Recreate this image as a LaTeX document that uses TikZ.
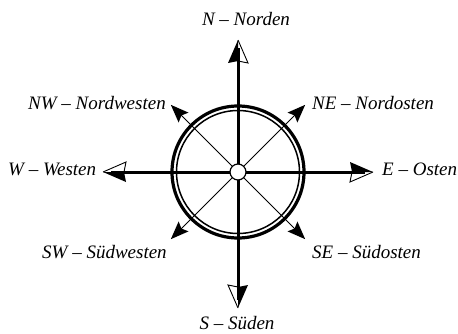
\documentclass[tikz,border=0pt]{standalone}
\usepackage{fontspec}
\setmainfont{Liberation Serif}
\usetikzlibrary{calc}
\tikzset{
  axisline/.style={line width=3pt},
  diagline/.style={line width=0.9pt},
  lbl/.style={inner sep=0pt, font=\fontsize{19}{22}\selectfont\itshape},
  halfhead/.pic={
    \fill (0,0) -- (-23,10) -- (-21,0) -- cycle;
    \draw[line width=0.9pt, line join=miter] (0,0) -- (-23,-10) -- (-21,0);
  },
  fullhead/.pic={
    \fill (0,0) -- (-18,7) -- (-15,0) -- (-18,-7) -- cycle;
  }
}
\begin{document}
\begin{tikzpicture}[x=1pt,y=1pt]
\useasboundingbox (0,0) rectangle (458,333);
\coordinate (C) at (238,161);
\coordinate (Ntip) at ($(C)+(0,132)$);
\coordinate (Stip) at ($(C)+(0,-136)$);
\coordinate (Etip) at ($(C)+(135,0)$);
\coordinate (Wtip) at ($(C)+(-135,0)$);
\coordinate (NEtip) at ($(C)+(45:95)$);
\coordinate (NWtip) at ($(C)+(135:95)$);
\coordinate (SWtip) at ($(C)+(225:95)$);
\coordinate (SEtip) at ($(C)+(315:95)$);
% rings
\draw[line width=3.2pt] (C) circle[radius=66];
\draw[line width=1.5pt] (C) circle[radius=61.5];
% diagonals
\foreach \t in {NE,NW,SW,SE}{
  \draw[diagline] (C) -- ($(\t tip)!10pt!(C)$);
}
\pic[rotate=45] at (NEtip) {fullhead};
\pic[rotate=135] at (NWtip) {fullhead};
\pic[rotate=225] at (SWtip) {fullhead};
\pic[rotate=315] at (SEtip) {fullhead};
% axes
\foreach \t in {N,S,E,W}{
  \draw[axisline] (C) -- ($(\t tip)!8pt!(C)$);
}
\pic[rotate=90] at (Ntip) {halfhead};
\pic[rotate=270] at (Stip) {halfhead};
\pic[rotate=0] at (Etip) {halfhead};
\pic[rotate=180] at (Wtip) {halfhead};
% hub
\draw[line width=1.2pt, fill=white] (C) circle[radius=8];
% labels
\node[lbl, anchor=base] (lN) at (246,308) {N – Norden};
\node[lbl, anchor=base] (lS) at (237,4) {S – Süden};
\node[lbl, anchor=base west] (lNW) at (28,224) {NW – Nordwesten};
\node[lbl, anchor=base west] (lNE) at (312,224) {NE – Nordosten};
\node[lbl, anchor=base west] (lW) at (8,158) {W – Westen};
\node[lbl, anchor=base west] (lE) at (382,158) {E – Osten};
\node[lbl, anchor=base west] (lSW) at (42,75) {SW – Südwesten};
\node[lbl, anchor=base west] (lSE) at (312,75) {SE – Südosten};
\end{tikzpicture}
\end{document}
